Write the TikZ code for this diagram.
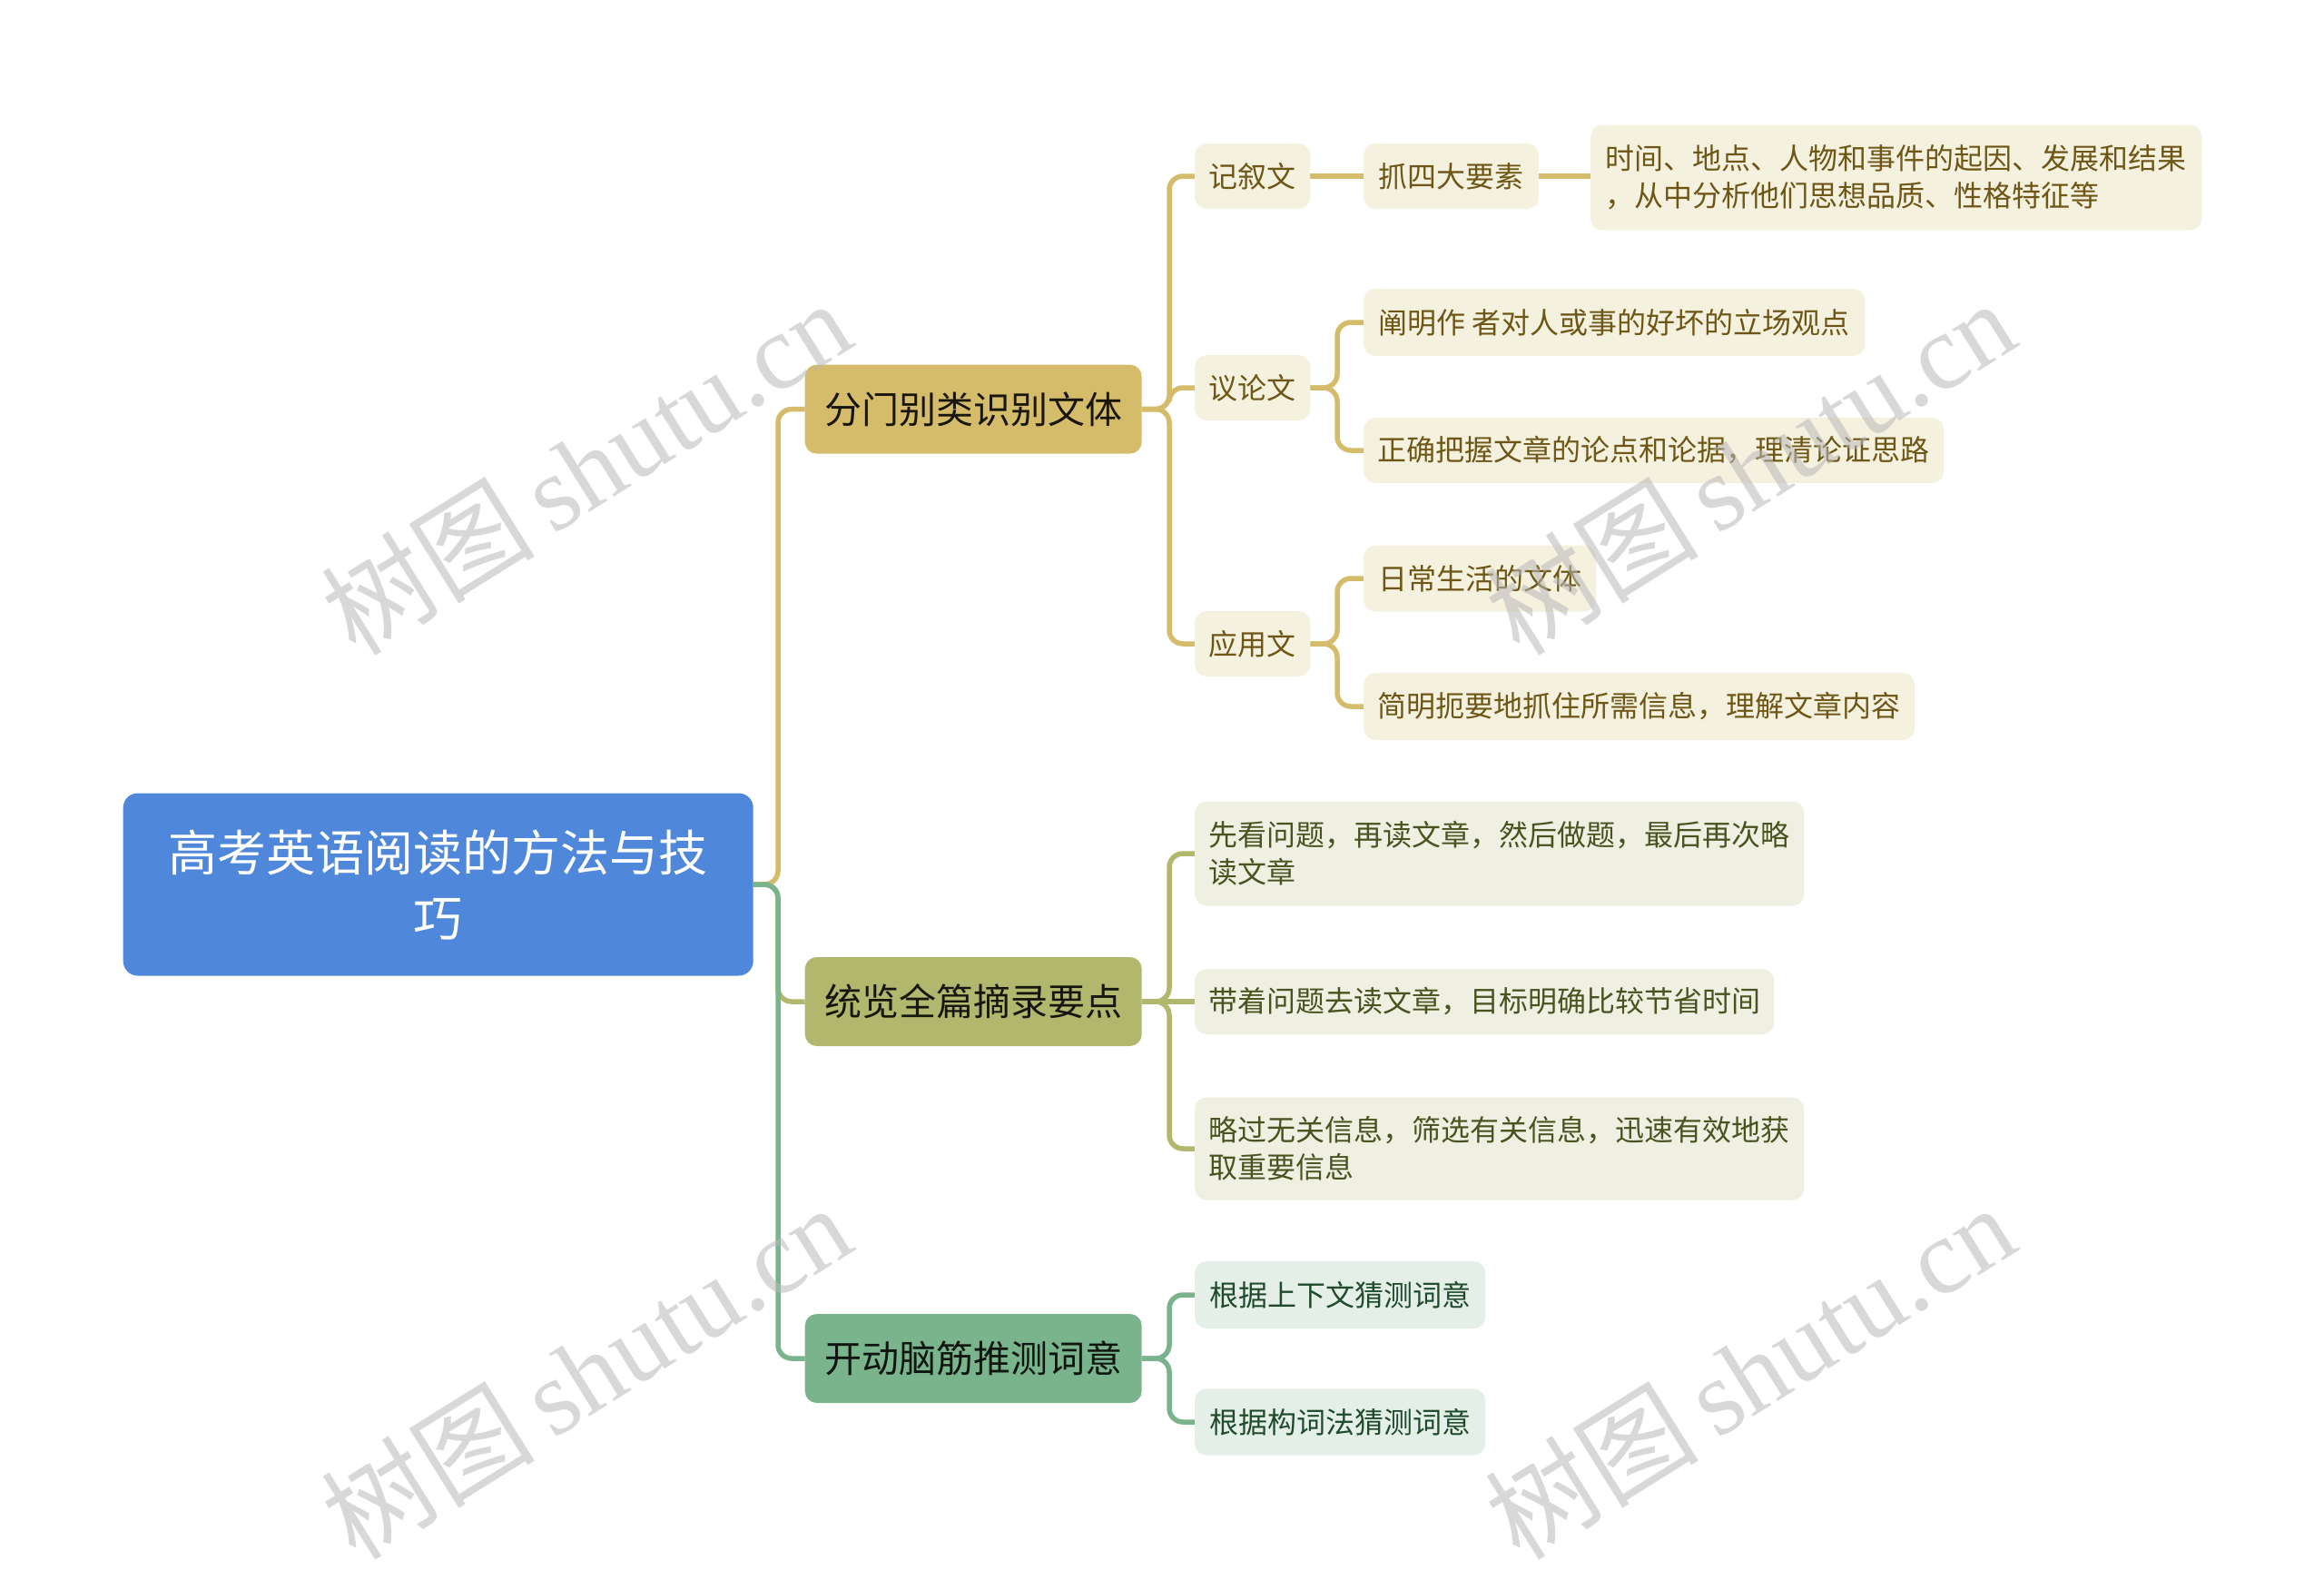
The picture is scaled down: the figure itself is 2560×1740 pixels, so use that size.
\documentclass[tikz,border=0pt]{standalone}
\usepackage{fontspec}
\newfontfamily\cjk{Noto Sans CJK SC}
\newfontfamily\wmserif{Liberation Serif}
\usetikzlibrary{backgrounds}
\definecolor{rootblue}{HTML}{4F87DB}
\definecolor{gA}{HTML}{D4BC6A}
\definecolor{gB}{HTML}{B1B86E}
\definecolor{gC}{HTML}{7AB48C}
\definecolor{fA}{HTML}{F5F1DF}
\definecolor{fB}{HTML}{EFEFE2}
\definecolor{fC}{HTML}{E4EFE7}
\definecolor{tA}{HTML}{6E5716}
\definecolor{tB}{HTML}{4A5320}
\definecolor{tC}{HTML}{1F4A2B}
\definecolor{wm}{HTML}{B8B8B8}
\tikzset{
  basebox/.style={rounded corners=13pt, inner sep=0pt, anchor=west, font=\cjk},
  rootbox/.style={basebox, fill=rootblue, text=white, rounded corners=16pt,
    minimum width=694pt, minimum height=201pt, align=center,
    font=\cjk\fontsize{54}{72}\selectfont},
  lone/.style={basebox, minimum width=371pt, minimum height=98pt,
    font=\cjk\fontsize{41}{50}\selectfont},
  ltwo/.style={basebox, minimum height=72pt, align=left,
    font=\cjk\fontsize{32}{41}\selectfont},
  boxA/.style={lone, fill=gA, text=black!80!gA!60!black},
  boxB/.style={lone, fill=gB, text=black!80!gB!60!black},
  boxC/.style={lone, fill=gC, text=black!80!gC!60!black},
  subA/.style={ltwo, fill=fA, text=tA},
  subB/.style={ltwo, fill=fB, text=tB},
  subC/.style={ltwo, fill=fC, text=tC},
  link/.style={line width=5.5pt, rounded corners=15pt},
  wmark/.style={text=wm, opacity=0.55, rotate=32, font=\fontsize{118}{130}\selectfont}
}
\begin{document}
\begin{tikzpicture}[x=1pt,y=-1pt]
\useasboundingbox (0,0) rectangle (2560,1740);
% nodes
\node[rootbox] (root) at (135.5,974) {高考英语阅读的方法与技\\巧};
\node[boxA] (A) at (886.5,450.6) {分门别类识别文体};
\node[boxB] (B) at (886.5,1103) {统览全篇摘录要点};
\node[boxC] (C) at (886.5,1496) {开动脑筋推测词意};
\node[subA, minimum width=127pt] (a1) at (1316,194) {记叙文};
\node[subA, minimum width=193pt] (a11) at (1502,194) {抓四大要素};
\node[subA, minimum width=673pt, minimum height=116pt] (a111) at (1752,195.5) {时间、地点、人物和事件的起因、发展和结果\\，从中分析他们思想品质、性格特征等};
\node[subA, minimum width=127pt] (a2) at (1316,427) {议论文};
\node[subA, minimum width=552pt, minimum height=74pt] (a21) at (1502,355) {阐明作 者对人或事的好坏的立场观点};
\node[subA, minimum width=639pt] (a22) at (1502,496) {正确把握文章的论点和论据，理清论证思路};
\node[subA, minimum width=127pt] (a3) at (1316,709) {应用文};
\node[subA, minimum width=256pt, minimum height=73pt] (a31) at (1502,637) {日常生活的文体};
\node[subA, minimum width=607pt, minimum height=74pt] (a32) at (1502,778) {简明扼要地抓住所需信息，理解文章内容};
\node[subB, minimum width=671pt, minimum height=115pt] (b1) at (1316,940) {先看问题，再读文章，然后做题，最后再次略\\读文章};
\node[subB, minimum width=638pt] (b2) at (1316,1103) {带着问题去读文章，目标明确比较节省时间};
\node[subB, minimum width=671pt, minimum height=113pt] (b3) at (1316,1265) {略过无关信息，筛选有关信息，迅速有效地获\\取重要信息};
\node[subC, minimum width=320pt, minimum height=74pt] (c1) at (1316,1426) {根据上下文猜测词意};
\node[subC, minimum width=320pt, minimum height=73pt] (c2) at (1316,1566) {根据构词法猜测词意};
% trunk coordinates
\coordinate (t0) at (857,0);
\coordinate (t1) at (1288,0);
\coordinate (t2) at (1473,0);
\begin{scope}[on background layer]
\fill[white] (0,0) rectangle (2560,1740);
\draw[link, gA] (root.east) -- (root.east -| t0) |- (A.west);
\draw[link, gB] (root.east) -- (root.east -| t0) |- (B.west);
\draw[link, gC] (root.east) -- (root.east -| t0) |- (C.west);
\draw[link, gA] (A.east) -- (A.east -| t1) |- (a1.west);
\draw[link, gA] (A.east) -- (A.east -| t1) |- (a2.west);
\draw[link, gA] (A.east) -- (A.east -| t1) |- (a3.west);
\draw[link, gA] (a1.east) -- (a11.west);
\draw[link, gA] (a11.east) -- (a111.west |- a11.east);
\draw[link, gA] (a2.east) -- (a2.east -| t2) |- (a21.west);
\draw[link, gA] (a2.east) -- (a2.east -| t2) |- (a22.west);
\draw[link, gA] (a3.east) -- (a3.east -| t2) |- (a31.west);
\draw[link, gA] (a3.east) -- (a3.east -| t2) |- (a32.west);
\draw[link, gB] (B.east) -- (B.east -| t1) |- (b1.west);
\draw[link, gB] (B.east) -- (b2.west);
\draw[link, gB] (B.east) -- (B.east -| t1) |- (b3.west);
\draw[link, gC] (C.east) -- (C.east -| t1) |- (c1.west);
\draw[link, gC] (C.east) -- (C.east -| t1) |- (c2.west);
\end{scope}
% watermarks
\node[wmark] (w1) at (645,514) {\cjk 树图\,\wmserif shutu.cn};
\node[wmark] (w2) at (1927,514) {\cjk 树图\,\wmserif shutu.cn};
\node[wmark] (w3) at (645,1510) {\cjk 树图\,\wmserif shutu.cn};
\node[wmark] (w4) at (1927,1510) {\cjk 树图\,\wmserif shutu.cn};
\end{tikzpicture}
\end{document}
